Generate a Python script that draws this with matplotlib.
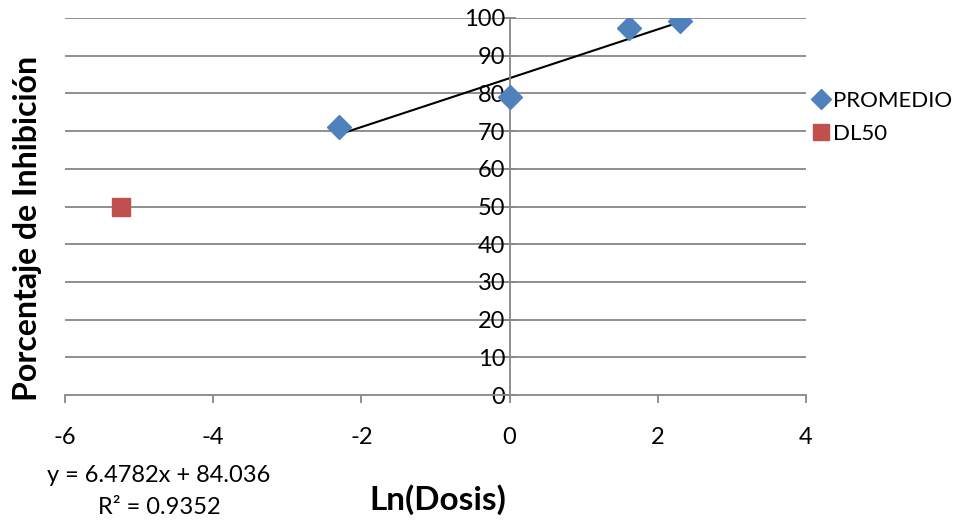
import matplotlib
matplotlib.use("Agg")
import matplotlib.pyplot as plt
import numpy as np

plt.rcParams['font.family'] = ['Lato', 'DejaVu Sans']
plt.rcParams['axes.unicode_minus'] = False

ln_dosis = [-2.303, 0.0, 1.609, 2.303]
promedio = [71.2, 79.0, 97.3, 99.3]
dl50_x = [-5.25]
dl50_y = [50.0]
slope, intercept = 6.4782, 84.036
r2 = 0.9352
xticks = [-6, -4, -2, 0, 2, 4]
yticks = list(range(0, 101, 10))

fig = plt.figure(figsize=(9.62, 5.22), dpi=100)
ax = fig.add_axes([65/962, 1-395/522, (806-65)/962, (395-18)/522])
ax.set_xlim(-6, 4)
ax.set_ylim(0, 100)
grid_c = '#878787'
for y in yticks[1:]:
    ax.axhline(y, color=grid_c, lw=1.3, zorder=1)

for s in ['top', 'right']:
    ax.spines[s].set_visible(False)
ax.spines['left'].set_position(('data', 0))
ax.spines['left'].set_color(grid_c)
ax.spines['left'].set_linewidth(1.3)
ax.spines['bottom'].set_color(grid_c)
ax.spines['bottom'].set_linewidth(1.3)
ax.set_xticks(xticks)
ax.set_yticks(yticks)
ax.tick_params(axis='x', direction='out', length=6, width=1.3, color=grid_c, labelsize=17, pad=17)
ax.tick_params(axis='y', direction='inout', length=8, width=1.3, color=grid_c, labelsize=17, pad=-1)

l1, = ax.plot(ln_dosis, promedio, 'D', color='#4F81BD', ms=12, label='PROMEDIO', zorder=3)
l2, = ax.plot(dl50_x, dl50_y, 's', color='#C0504D', ms=13, label='DL50', zorder=3)
xt = np.array([min(ln_dosis), max(ln_dosis)])
ax.plot(xt, slope*xt + intercept, color='black', lw=1.5, zorder=2)

fig.legend(handles=[l1, l2], loc='upper left', bbox_to_anchor=(804/962, 1-82/522),
           frameon=False, fontsize=16, handlelength=0.7, handletextpad=0.2, labelspacing=0.6,
           borderaxespad=0, markerscale=0.85)

fig.text(159/962, 1-476/522, f'y = {slope}x + {intercept}', fontsize=17, ha='center', va='center')
fig.text(159/962, 1-507/522, f'R² = {r2}', fontsize=17, ha='center', va='center')
fig.text(438/962, 1-500/522, 'Ln(Dosis)', fontsize=24, fontweight='bold', ha='center', va='center')
fig.text(28/962, 1-228/522, 'Porcentaje de Inhibición', fontsize=23, fontweight='bold',
         ha='center', va='center', rotation=90)

fig.savefig('out.png', dpi=100)
